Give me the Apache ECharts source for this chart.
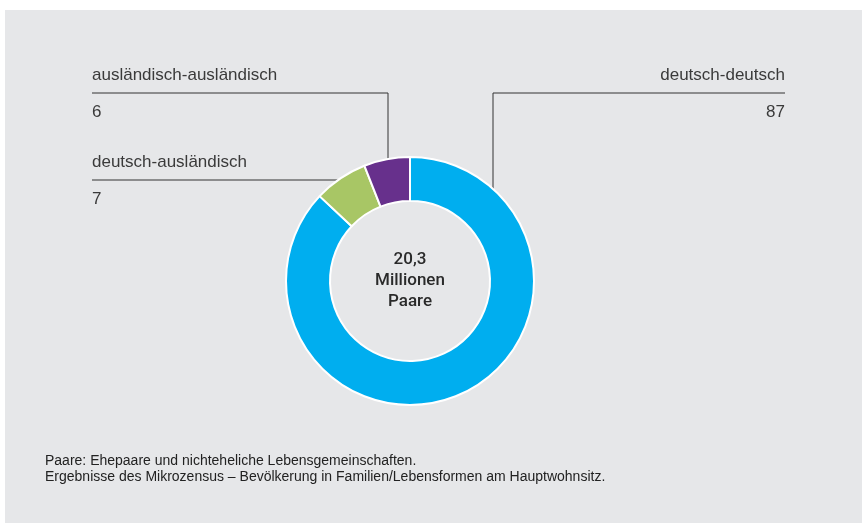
<!DOCTYPE html>
<html>
<head>
<meta charset="utf-8">
<script src="https://cdn.jsdelivr.net/npm/echarts@6/dist/echarts.min.js"></script>
<style>
html,body{margin:0;padding:0;background:#fff;}
#c{width:862px;height:523px;}
</style>
</head>
<body>
<div id="c"></div>
<script>
const categories = ['deutsch-deutsch', 'deutsch-ausländisch', 'ausländisch-ausländisch'];
const values = [87, 7, 6];
const colors = ['#00aeef', '#a8c665', '#67308c'];
const centerText = ['20,3', 'Millionen', 'Paare'];
const notes = [
  'Paare: Ehepaare und nichteheliche Lebensgemeinschaften.',
  'Ergebnisse des Mikrozensus – Bevölkerung in Familien/Lebensformen am Hauptwohnsitz.'
];

const CX = 410, CY = 281, R_IN = 80, R_OUT = 124;

const labelGeo = [
  {mode: 'v', x: 493, lineY: 93, textX: 785, align: 'right'},
  {mode: 'h', lineY: 180, textX: 92, align: 'left'},
  {mode: 'v', x: 388, lineY: 93, textX: 92, align: 'left'}
];

const chart = echarts.init(document.getElementById('c'), null, {renderer: 'canvas'});
const data = categories.map((n, i) => ({name: n, value: values[i], itemStyle: {color: colors[i]}}));

chart.setOption({
  backgroundColor: '#ffffff',
  animation: false,
  graphic: [
    {type: 'rect', z: -10, shape: {x: 5, y: 10, width: 857, height: 513}, style: {fill: '#e6e7e9'}},
    {type: 'text', z: 10, x: CX, y: CY, style: {
      text: centerText.join('\n'), align: 'center', verticalAlign: 'middle',
      font: '500 17px Roboto, "Liberation Sans", sans-serif', lineHeight: 21, fill: '#2a2a2a'
    }},
    {type: 'text', x: 45, y: 453, style: {
      text: notes.join('\n'), align: 'left', verticalAlign: 'top',
      font: '14px "Liberation Sans", Arial, sans-serif', lineHeight: 16, fill: '#222'
    }}
  ],
  series: [{
    type: 'pie',
    center: [CX, CY],
    radius: [R_IN, R_OUT],
    startAngle: 90,
    clockwise: true,
    silent: true,
    itemStyle: {borderColor: '#ffffff', borderWidth: 2},
    label: {
      show: true,
      position: 'outside',
      formatter: p => '{n|' + p.name + '}\n{v|' + p.value + '}',
      rich: {
        n: {fontSize: 17, lineHeight: 38, color: '#3a3a3a', fontFamily: '"Liberation Sans", Arial, sans-serif'},
        v: {fontSize: 17, lineHeight: 36, color: '#3a3a3a', fontFamily: '"Liberation Sans", Arial, sans-serif'}
      }
    },
    labelLine: {show: true, lineStyle: {color: '#333', width: 1}},
    labelLayout: function (p) {
      const g = labelGeo[p.dataIndex];
      let pts;
      if (g.mode === 'v') {
        const ay = CY - Math.sqrt(R_OUT * R_OUT - (g.x - CX) * (g.x - CX));
        pts = [[g.x, ay], [g.x, g.lineY], [g.textX, g.lineY]];
      } else {
        const ax = CX - Math.sqrt(R_OUT * R_OUT - (g.lineY - CY) * (g.lineY - CY));
        pts = [[ax, g.lineY], [(ax + g.textX) / 2, g.lineY], [g.textX, g.lineY]];
      }
      return {x: g.textX, y: g.lineY, align: g.align, verticalAlign: 'middle', labelLinePoints: pts, hideOverlap: false};
    },
    data: data
  }]
});
</script>
</body>
</html>
